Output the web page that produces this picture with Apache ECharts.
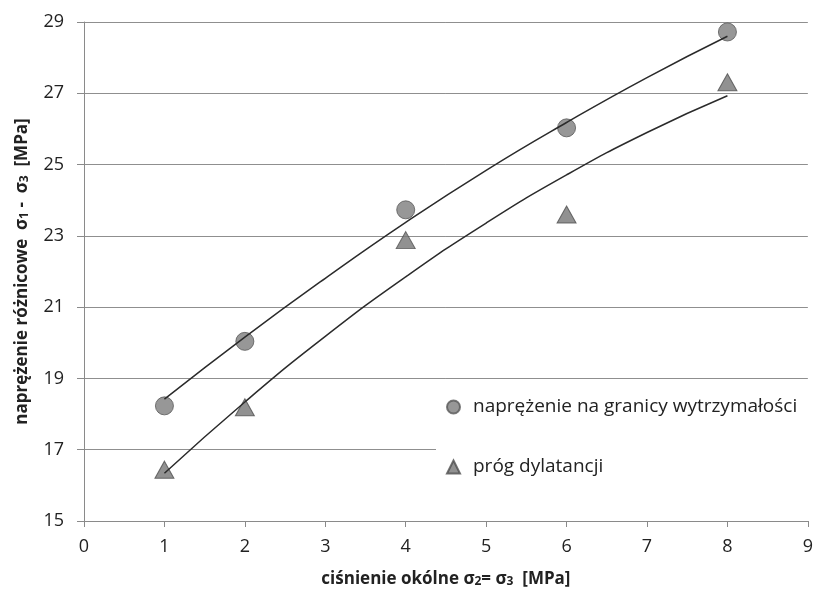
<!DOCTYPE html>
<html>
<head>
<meta charset="utf-8">
<script src="https://cdn.jsdelivr.net/npm/echarts@6/dist/echarts.min.js"></script>
<style>
html,body{margin:0;padding:0;background:#fff;}
#chart{width:816px;height:593px;}
</style>
</head>
<body>
<div id="chart"></div>
<script>
// data
const xCisnienie = [1, 2, 4, 6, 8];
const granicaWytrzymalosci = [18.23, 20.04, 23.73, 26.03, 28.72];
const progDylatancji = [16.44, 18.19, 22.88, 23.60, 27.31];
// trend lines
const trendX = [1, 2, 3, 4, 5, 6, 7, 8];
const trendGranica = [18.42, 20.16, 21.81, 23.38, 24.84, 26.18, 27.44, 28.60];
const trendProg = [16.34, 18.34, 20.18, 21.85, 23.36, 24.71, 25.90, 26.93];
const seriesNames = ['naprężenie na granicy wytrzymałości', 'próg dylatancji'];

const FONT = '"Open Sans", sans-serif';
const zip = (xs, ys) => xs.map((x, i) => [x, ys[i]]);

const chart = echarts.init(document.getElementById('chart'), null, {renderer: 'canvas'});
chart.setOption({
  animation: false,
  backgroundColor: '#fff',
  grid: {left: 84, right: 8, top: 22, bottom: 68, containLabel: false},
  xAxis: {
    type: 'value', min: 0, max: 9, interval: 1,
    name: '{b|ciśnienie okólne σ}{s|2}{b|= σ}{s|3}{b|  [MPa]}',
    nameLocation: 'middle', nameGap: 45,
    nameTextStyle: {
      rich: {
        b: {fontFamily: FONT, fontSize: 17, fontWeight: 'bold', color: '#222', lineHeight: 22, verticalAlign: 'bottom'},
        s: {fontFamily: FONT, fontSize: 12, fontWeight: 'bold', color: '#222', lineHeight: 22, verticalAlign: 'bottom'}
      }
    },
    axisLine: {show: true, lineStyle: {color: '#8a8a8a', width: 1}},
    axisTick: {show: true, inside: false, length: 6, lineStyle: {color: '#8a8a8a'}},
    axisLabel: {fontFamily: FONT, fontSize: 18, color: '#222', margin: 17},
    splitLine: {show: false}
  },
  yAxis: {
    type: 'value', min: 15, max: 29, interval: 2,
    name: '{b|naprężenie różnicowe  σ}{s|1}{b| -  σ}{s|3}{b|  [MPa]}',
    nameLocation: 'middle', nameGap: 53, nameRotate: 90,
    nameTextStyle: {
      rich: {
        b: {fontFamily: FONT, fontSize: 17, fontWeight: 'bold', color: '#222', lineHeight: 22, verticalAlign: 'bottom'},
        s: {fontFamily: FONT, fontSize: 12, fontWeight: 'bold', color: '#222', lineHeight: 22, verticalAlign: 'bottom'}
      }
    },
    axisLine: {show: true, lineStyle: {color: '#8a8a8a', width: 1}},
    axisTick: {show: true, inside: false, length: 7, lineStyle: {color: '#8a8a8a'}},
    axisLabel: {fontFamily: FONT, fontSize: 18, color: '#222', margin: 20},
    splitLine: {show: true, lineStyle: {color: '#8f8f8f', width: 1}}
  },
  legend: {
    orient: 'vertical',
    left: 436, top: 385,
    padding: [10, 80, 30, 10],
    backgroundColor: '#fff',
    itemWidth: 13, itemHeight: 13, itemGap: 36,
    textStyle: {fontFamily: FONT, fontSize: 19, color: '#222', lineHeight: 24, padding: [0, 0, 0, 8]},
    data: [
      {name: seriesNames[0], icon: 'circle'},
      {name: seriesNames[1], icon: 'triangle'}
    ]
  },
  series: [
    {
      name: 'trend1', type: 'line', data: zip(trendX, trendGranica),
      showSymbol: false, symbol: 'none', smooth: true, z: 3,
      lineStyle: {color: '#2b2b2b', width: 1.5}, silent: true
    },
    {
      name: 'trend2', type: 'line', data: zip(trendX, trendProg),
      showSymbol: false, symbol: 'none', smooth: true, z: 3,
      lineStyle: {color: '#2b2b2b', width: 1.5}, silent: true
    },
    {
      name: seriesNames[0], type: 'scatter', data: zip(xCisnienie, granicaWytrzymalosci),
      symbol: 'circle', symbolSize: 18, z: 2,
      itemStyle: {color: '#7d7d7d', borderColor: '#585858', borderWidth: 1}
    },
    {
      name: seriesNames[1], type: 'scatter', data: zip(xCisnienie, progDylatancji),
      symbol: 'triangle', symbolSize: [19, 17], z: 2,
      itemStyle: {color: '#767676', borderColor: '#4f4f4f', borderWidth: 1}
    }
  ]
});
</script>
</body>
</html>
